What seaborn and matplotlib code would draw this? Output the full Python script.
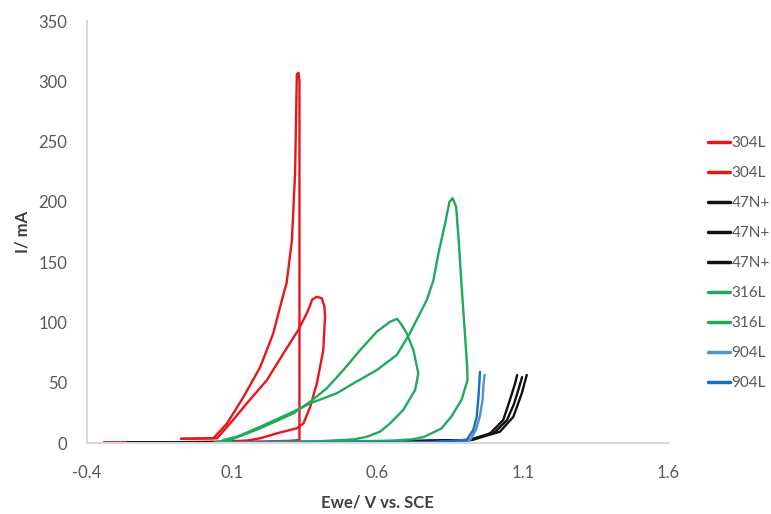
import matplotlib
matplotlib.use("Agg")
import matplotlib.pyplot as plt
import seaborn as sns
import pandas as pd

# ---------------- data (potential V vs SCE, current mA) ----------------
v_304l_1 = [-0.34, -0.20, 0.00, 0.20, 0.30, 0.332, 0.332, 0.329, 0.323, 0.317, 0.306, 0.288,
            0.271, 0.242, 0.197, 0.139, 0.082, 0.036, -0.075]
i_304l_1 = [0.5, 0.6, 0.8, 1.2, 1.8, 2.5, 300.0, 307.0, 306.0, 224.0, 168.0, 133.0,
            118.0, 91.0, 63.0, 38.0, 16.0, 4.0, 3.5]

v_304l_2 = [-0.34, -0.10, 0.05, 0.15, 0.197, 0.254, 0.323, 0.346, 0.369, 0.392, 0.414, 0.420,
            0.418, 0.409, 0.392, 0.376, 0.365, 0.357, 0.328, 0.277, 0.220, 0.151, 0.094, 0.048, -0.075]
i_304l_2 = [0.5, 0.6, 1.0, 2.0, 3.9, 8.0, 12.2, 16.3, 30.1, 49.5, 77.1, 104.7,
            113.0, 120.0, 121.3, 119.0, 112.0, 107.5, 93.7, 74.4, 52.2, 32.9, 16.3, 3.9, 3.5]

v_47n_1 = [-0.26, 0.20, 0.60, 0.919, 0.988, 1.033, 1.056, 1.074, 1.081]
i_47n_1 = [0.5, 0.6, 1.0, 2.5, 8.0, 19.0, 35.7, 49.5, 56.4]
v_47n_2 = [-0.26, 0.20, 0.60, 0.919, 1.005, 1.046, 1.070, 1.087, 1.098]
i_47n_2 = [0.5, 0.6, 1.0, 2.5, 9.1, 19.0, 32.3, 45.6, 54.7]
v_47n_3 = [-0.26, 0.20, 0.60, 0.926, 1.022, 1.068, 1.097, 1.114]
i_47n_3 = [0.5, 0.6, 1.0, 2.5, 9.4, 21.8, 41.2, 56.4]

v_316l_1 = [0.04, 0.30, 0.50, 0.65, 0.72, 0.76, 0.82, 0.855, 0.890, 0.910, 0.909, 0.902, 0.890,
            0.879, 0.871, 0.859, 0.848, 0.833, 0.810, 0.793, 0.770, 0.712, 0.667, 0.598, 0.518,
            0.460, 0.369, 0.311, 0.197, 0.117, 0.070]
i_316l_1 = [0.5, 0.8, 1.2, 2.0, 3.0, 5.0, 12.0, 22.0, 36.0, 52.0, 63.3, 88.1, 129.6,
            171.0, 196.0, 203.0, 200.0, 182.0, 157.0, 135.0, 118.6, 91.0, 73.0, 60.5, 49.5,
            41.2, 32.9, 26.0, 13.5, 5.2, 2.5]

v_316l_2 = [0.05, 0.20, 0.40, 0.52, 0.564, 0.609, 0.644, 0.689, 0.730, 0.741, 0.724, 0.701,
            0.684, 0.668, 0.644, 0.598, 0.541, 0.483, 0.426, 0.369, 0.311, 0.197, 0.094, 0.05]
i_316l_2 = [0.5, 0.8, 1.5, 3.0, 5.2, 9.4, 16.3, 27.4, 43.9, 57.8, 77.1, 91.0,
            97.8, 103.0, 100.6, 92.3, 77.1, 60.5, 45.4, 34.2, 24.6, 12.2, 2.5, 1.0]

v_904l_1 = [0.10, 0.50, 0.80, 0.919, 0.939, 0.953, 0.962, 0.965, 0.969]
i_904l_1 = [0.3, 0.4, 0.8, 2.5, 10.8, 22.4, 35.7, 48.0, 56.4]
v_904l_2 = [0.10, 0.50, 0.80, 0.907, 0.930, 0.942, 0.947, 0.951, 0.953]
i_904l_2 = [0.3, 0.4, 0.8, 2.5, 10.8, 21.8, 35.7, 49.5, 59.0]

series_labels = ["304L", "304L", "47N+", "47N+", "47N+", "316L", "316L", "904L", "904L"]
series_v = [v_304l_1, v_304l_2, v_47n_1, v_47n_2, v_47n_3, v_316l_1, v_316l_2, v_904l_1, v_904l_2]
series_i = [i_304l_1, i_304l_2, i_47n_1, i_47n_2, i_47n_3, i_316l_1, i_316l_2, i_904l_1, i_904l_2]
series_colors = ["#E8161B", "#E8161B", "#111111", "#111111", "#111111",
                 "#22AA5B", "#22AA5B", "#4F93CF", "#1A6CC0"]

x_ticks = [-0.4, 0.1, 0.6, 1.1, 1.6]
y_ticks = [0, 50, 100, 150, 200, 250, 300, 350]

# ---------------- figure ----------------
sns.set_theme(style="white")
plt.rcParams['font.family'] = ['Lato', 'DejaVu Sans']

W, H = 771, 514
fig = plt.figure(figsize=(W / 100, H / 100), dpi=100)
x0, x1, y0, y1 = 86.7, 668.0, 21.0, 443.0
ax = fig.add_axes([x0 / W, 1 - y1 / H, (x1 - x0) / W, (y1 - y0) / H])

handles = []
for k, (v, i, c, lab) in enumerate(zip(series_v, series_i, series_colors, series_labels)):
    df = pd.DataFrame({"V": v, "I": i})
    sns.lineplot(data=df, x="V", y="I", ax=ax, sort=False, estimator=None,
                 color=c, lw=1.7, legend=False)
    handles.append(ax.get_lines()[-1])

ax.set_xlim(-0.4, 1.6)
ax.set_ylim(0, 350)
ax.set_xticks(x_ticks)
ax.set_xticklabels([f"{t:.1f}" for t in x_ticks])
ax.set_yticks(y_ticks)
ax.set_yticklabels([str(t) for t in y_ticks])
ax.set_xlabel("")
ax.set_ylabel("")
for s in ["top", "right"]:
    ax.spines[s].set_visible(False)
for s in ["left", "bottom"]:
    ax.spines[s].set_color("#D9D9D9")
    ax.spines[s].set_linewidth(1.5)
ax.tick_params(axis="both", direction="out", colors="#D9D9D9", length=4, width=1,
               labelcolor="#595959", labelsize=12)
ax.tick_params(axis="y", pad=10)
ax.tick_params(axis="x", pad=12)
ax.grid(False)

fig.text(377 / W, 1 - 502 / H, "Ewe/ V vs. SCE", ha="center", va="center",
         fontsize=12, fontweight="bold", color="#404040")
fig.text(22 / W, 1 - 232 / H, "I/ mA", ha="center", va="center", rotation=90,
         fontsize=12, fontweight="bold", color="#404040")

leg = fig.legend(handles, series_labels, loc="upper left",
                 bbox_to_anchor=(708 / W, 1 - 136 / H), frameon=False,
                 fontsize=11, handlelength=1.45, handletextpad=0.1,
                 labelspacing=1.05, borderpad=0, borderaxespad=0)
for t in leg.get_texts():
    t.set_color("#595959")
for lh in leg.get_lines():
    lh.set_linewidth(2.5)

fig.savefig("out.png", dpi=100)
